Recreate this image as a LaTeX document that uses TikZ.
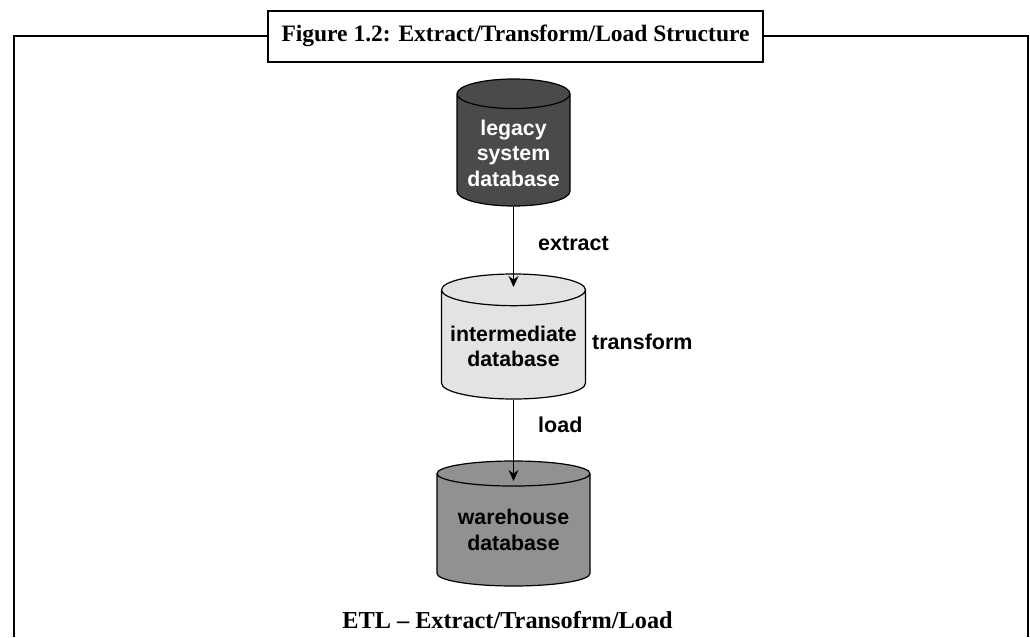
\documentclass[tikz,border=0pt]{standalone}
\usepackage{fontspec}
\setmainfont{Liberation Serif}
\setsansfont{Liberation Sans}
\usepackage{tikz}
\usetikzlibrary{shapes.geometric,arrows.meta}

\newcommand{\dbpad}[1]{\rule{0pt}{#1}}

\begin{document}
\begin{tikzpicture}[x=1pt,y=-1pt,
	db/.style={cylinder,shape border rotate=90,draw,line width=1.2pt,anchor=shape center,
		align=center,inner sep=0pt,font=\sffamily\bfseries\fontsize{21.3}{25.5}\selectfont},
	lbl/.style={anchor=west,inner sep=0pt,font=\sffamily\bfseries\fontsize{21.5}{24}\selectfont},
	link/.style={line width=1.2pt,-{Stealth[length=11pt,width=10pt]}}]
	\useasboundingbox (0,0) rectangle (1030,637);

	\node[draw,line width=2pt,minimum width=495pt,minimum height=51pt,inner sep=0pt,
		font=\bfseries\fontsize{23.5}{26}\selectfont] (nTitle) at (515.5,36) {Figure 1.2: Extract/Transform/Load Structure};
	\coordinate (nBotL) at (14,637);
	\coordinate (nTopL) at (14,36);
	\coordinate (nTopR) at (1028,36);
	\coordinate (nBotR) at (1028,637);
	\draw[line width=2pt] (nBotL) -- (nTopL) -- (nTitle.west);
	\draw[line width=2pt] (nTitle.east) -- (nTopR) -- (nBotR);

	\node[db,aspect=0.32,minimum width=113pt,minimum height=127pt,fill=black!71,text=white] (nLegacy) at (513.5,142.5) {\dbpad{21pt}legacy\\system\\database};
	\node[db,aspect=0.25,minimum width=144pt,minimum height=125pt,fill=black!11] (nInter) at (513.5,336.5) {\dbpad{19pt}intermediate\\database};
	\node[db,aspect=0.225,minimum width=153pt,minimum height=125pt,fill=black!43] (nWare) at (513.5,523.5) {warehouse\\database};

	\coordinate (tipA) at (513.5,287);
	\coordinate (tipB) at (513.5,481);
	\draw[link] (nLegacy.south) -- (tipA);
	\draw[link] (nInter.south) -- (tipB);

	\node[lbl] (nExtract) at (538,244) {extract};
	\node[lbl] (nTransform) at (592,342) {transform};
	\node[lbl] (nLoad) at (538,425) {load};
	\node[inner sep=0pt,font=\bfseries\fontsize{24.3}{27}\selectfont] (nCaption) at (507.5,620) {ETL – Extract/Transofrm/Load};
\end{tikzpicture}
\end{document}
